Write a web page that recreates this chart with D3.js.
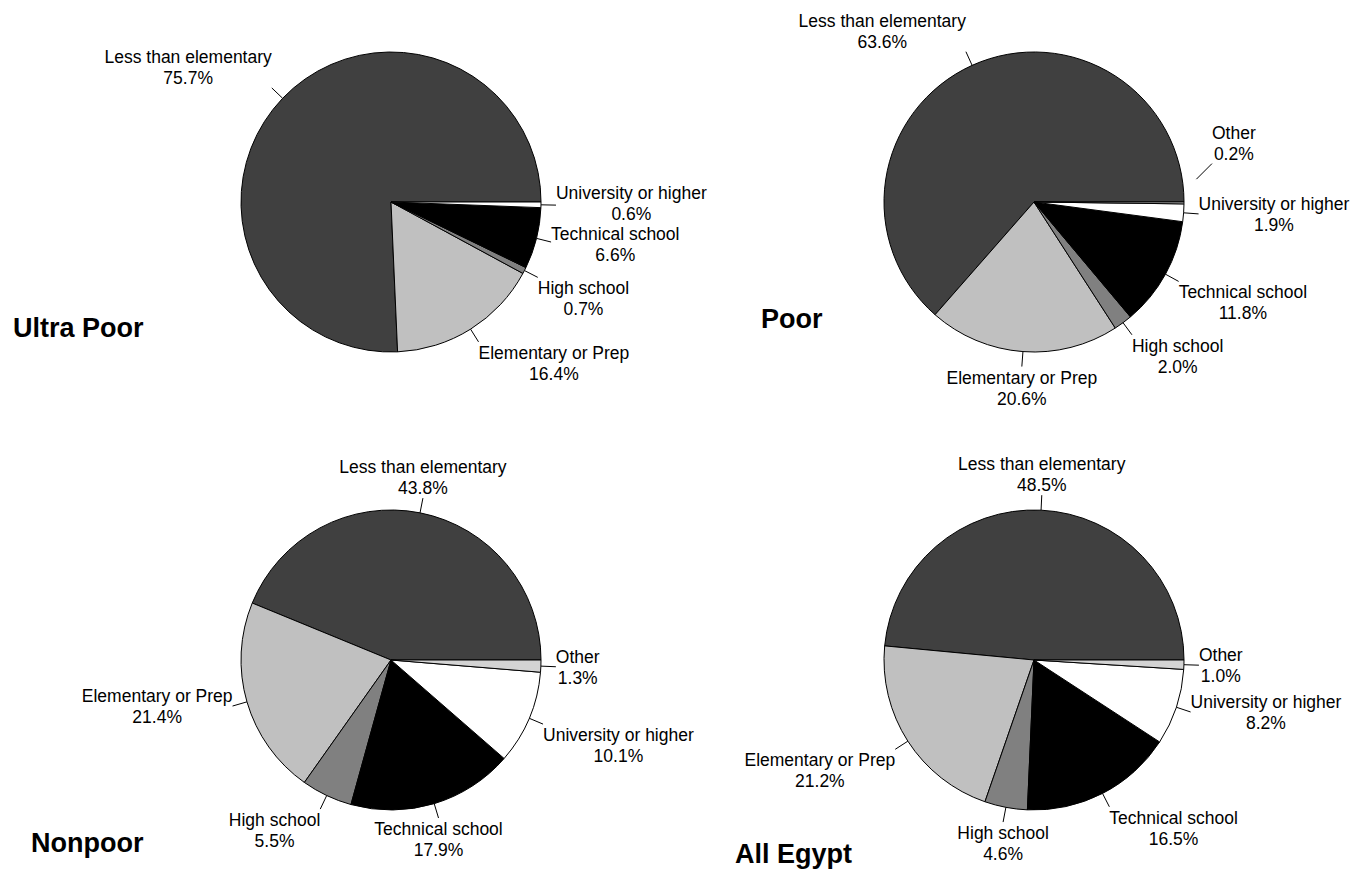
<!DOCTYPE html>
<html>
<head>
<meta charset="utf-8">
<script src="https://cdn.jsdelivr.net/npm/d3@7"></script>
<style>
  html, body { margin: 0; padding: 0; background: #fff; }
  svg { display: block; font-family: "Liberation Sans", Arial, sans-serif; }
</style>
</head>
<body>
<script>
// Education level of household heads, share of households (%) by poverty group
const categories = ["Less than elementary", "Elementary or Prep", "High school",
                    "Technical school", "University or higher", "Other"];
const groups = ["Ultra Poor", "Poor", "Nonpoor", "All Egypt"];

const ultraPoorShares = [75.7, 16.4, 0.7, 6.6, 0.6, null];
const poorShares      = [63.6, 20.6, 2.0, 11.8, 1.9, 0.2];
const nonpoorShares   = [43.8, 21.4, 5.5, 17.9, 10.1, 1.3];
const allEgyptShares  = [48.5, 21.2, 4.6, 16.5, 8.2, 1.0];

const sharesByGroup = [ultraPoorShares, poorShares, nonpoorShares, allEgyptShares];

// ---- presentation ----
const W = 1355, H = 871;
const fills = ["#404040", "#c0c0c0", "#808080", "#000000", "#ffffff", "#d3d3d3"];
const radius = 150;
const leaderLen = 15;
const labelSize = 17.5;
const lineGap = 21;
const ascent = 0.905 * labelSize, descent = 0.212 * labelSize;

// panel grid: two columns, two rows of pies
const colX = d3.scaleOrdinal().domain([0, 1]).range([391, 1034]);
const rowY = d3.scaleOrdinal().domain([0, 1]).range([202, 660]);
// title anchor of each panel (left x, baseline y)
const titlePos = [[13, 337], [761, 328], [31, 852], [735, 863]];

// one hand-placed label: "Other" in the Poor pie sits above the thin slice
const labelNudges = [
  { group: "Poor", category: "Other", angleDeg: 8, startR: radius + 14, dirDeg: 45, len: 22 }
];

const svg = d3.select("body").append("svg")
  .attr("width", W).attr("height", H);

const arc = d3.arc().innerRadius(0).outerRadius(radius);
// slices run counter-clockwise starting at 3 o'clock
const pie = d3.pie()
  .sort(null)
  .value(d => d.value)
  .startAngle(Math.PI / 2)
  .endAngle(Math.PI / 2 - 2 * Math.PI);

const T = 0.3827; // sin(22.5deg): within this band a label is centred on its leader

groups.forEach((name, gi) => {
  const cx = colX(gi % 2), cy = rowY(Math.floor(gi / 2));
  const data = categories
    .map((c, i) => ({ category: c, value: sharesByGroup[gi][i], fill: fills[i] }))
    .filter(d => d.value != null);

  const g = svg.append("g").attr("transform", `translate(${cx},${cy})`);

  const arcs = pie(data);

  g.selectAll("path.slice")
    .data(arcs)
    .join("path")
    .attr("class", "slice")
    .attr("d", arc)
    .attr("fill", d => d.data.fill)
    .attr("stroke", "#000")
    .attr("stroke-width", 1)
    .attr("stroke-linejoin", "round");

  const labels = [];

  arcs.forEach(d => {
    let p0, p1, c, s;
    const nudge = labelNudges.find(n => n.group === name && n.category === d.data.category);
    if (nudge) {
      const a = nudge.angleDeg * Math.PI / 180;
      const b = nudge.dirDeg * Math.PI / 180;
      p0 = [Math.cos(a) * nudge.startR, -Math.sin(a) * nudge.startR];
      p1 = [p0[0] + Math.cos(b) * nudge.len, p0[1] - Math.sin(b) * nudge.len];
      c = Math.cos(b); s = Math.sin(b);
    } else {
      const mid = (d.startAngle + d.endAngle) / 2;
      const sx = Math.sin(mid), sy = -Math.cos(mid);
      p0 = [sx * radius, sy * radius];
      p1 = [sx * (radius + leaderLen), sy * (radius + leaderLen)];
      c = sx; s = -sy;
    }

    g.append("line")
      .attr("x1", p0[0]).attr("y1", p0[1])
      .attr("x2", p1[0]).attr("y2", p1[1])
      .attr("stroke", "#000").attr("stroke-width", 1);

    const lines = [d.data.category, d3.format(".1f")(d.data.value) + "%"];
    const text = g.append("text")
      .attr("font-size", labelSize)
      .attr("fill", "#000")
      .attr("text-anchor", "middle");
    const spans = text.selectAll("tspan").data(lines).join("tspan").text(t => t);
    const w = d3.max(spans.nodes(), n => n.getComputedTextLength());
    const h = lineGap * 2;

    const ax = Math.abs(c) < T ? 0.5 : (c > 0 ? 0 : 1);
    const ay = Math.abs(s) < T ? 0.5 : (s > 0 ? 1 : 0);
    const left = p1[0] - ax * w;
    const top = p1[1] - ay * h;
    labels.push({ spans, left, w, b1: top + 17 });
  });

  // push apart label blocks whose text boxes touch
  const boxTop = L => L.b1 - ascent;
  const boxBottom = L => L.b1 + lineGap + descent;
  for (let pass = 0; pass < 4; pass++) {
    for (let i = 0; i < labels.length; i++) {
      for (let j = i + 1; j < labels.length; j++) {
        const A = labels[i], B = labels[j];
        const xOverlap = A.left < B.left + B.w && B.left < A.left + A.w;
        if (!xOverlap) continue;
        const [up, dn] = boxTop(A) <= boxTop(B) ? [A, B] : [B, A];
        const ov = boxBottom(up) - boxTop(dn);
        if (ov > -0.5) {
          const shift = (ov + 0.6) / 2;
          up.b1 -= shift;
          dn.b1 += shift;
        }
      }
    }
  }

  labels.forEach(L => {
    L.spans
      .attr("x", L.left + L.w / 2)
      .attr("y", (t, i) => L.b1 + i * lineGap);
  });

  svg.append("text")
    .attr("x", titlePos[gi][0])
    .attr("y", titlePos[gi][1])
    .attr("font-size", 27)
    .attr("font-weight", "bold")
    .attr("fill", "#000")
    .text(name);
});
</script>
</body>
</html>
